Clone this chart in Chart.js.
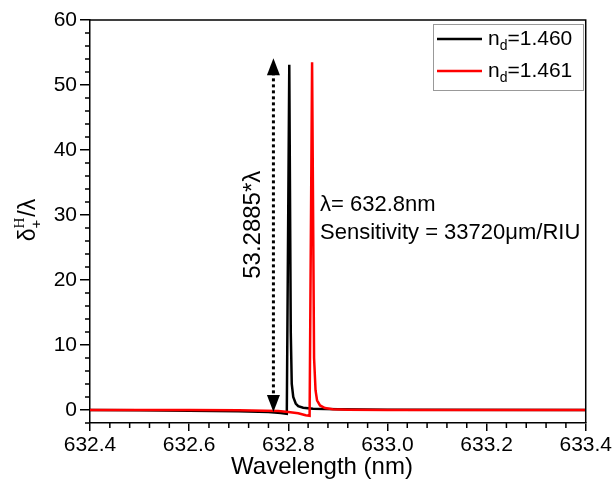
<!DOCTYPE html>
<html>
<head>
<meta charset="utf-8">
<script src="https://cdn.jsdelivr.net/npm/chart.js@4.4.0/dist/chart.umd.min.js"></script>
<style>
  body { margin: 0; background: #fff; }
  #wrap { width: 614px; height: 481px; }
</style>
</head>
<body>
<div id="wrap"><canvas id="myChart" width="614" height="481"></canvas></div>
<script>
// wavelength (nm) and delta/lambda
const blackX = [632.40, 632.50, 632.60, 632.70, 632.76, 632.785, 632.797, 632.802, 632.805, 632.807, 632.810, 632.815, 632.820, 632.830, 632.850, 632.900, 633.000, 633.400];
const blackY = [0, -0.05, -0.1, -0.2, -0.3, -0.45, -0.6, 53.1, 12, 4, 2, 1, 0.6, 0.35, 0.2, 0.1, 0.05, 0];
const redX = [632.40, 632.60, 632.70, 632.78, 632.80, 632.82, 632.835, 632.843, 632.848, 632.852, 632.855, 632.858, 632.864, 632.874, 632.890, 632.920, 633.000, 633.400];
const redY = [0, 0, -0.05, -0.15, -0.3, -0.5, -0.8, -0.9, 53.5, 8, 3, 1.5, 0.7, 0.3, 0.1, 0.05, 0, 0];

const seriesLabels = ["1.460", "1.461"];
const seriesColors = ["#000000", "#ff0000"];

const xTicks = [632.4, 632.6, 632.8, 633.0, 633.2, 633.4];
const yTicks = [0, 10, 20, 30, 40, 50, 60];

// annotation anchors in data units
const arrowX = 632.77;
const arrowTop = 54.1;
const arrowBottom = -0.3;
const heightLabel = "53.2885*\u03bb";
const heightLabelPos = [632.73, 28.5];
const noteLines = ["\u03bb= 632.8nm", "Sensitivity = 33720\u03bcm/RIU"];
const notePos = [632.864, 31.5, 27.2];

const FONT = "'Liberation Sans', Arial, sans-serif";
const SERIF = "'Liberation Serif', 'Times New Roman', serif";

function toPoints(xs, ys) {
  return xs.map((x, i) => ({ x: x, y: ys[i] }));
}

// minor ticks, frame, legend, axis titles and annotations
const extras = {
  id: "extras",
  afterDraw(chart) {
    const ctx = chart.ctx;
    const area = chart.chartArea;
    const xs = chart.scales.x;
    const ys = chart.scales.y;
    ctx.save();
    ctx.strokeStyle = "#000";
    ctx.lineWidth = 1.5;

    // frame top / right
    ctx.beginPath();
    ctx.moveTo(area.left, area.top);
    ctx.lineTo(area.right, area.top);
    ctx.lineTo(area.right, area.bottom);
    ctx.stroke();

    // minor ticks
    ctx.beginPath();
    for (let v = -2; v <= 60; v += 2) {
      if (v % 10 === 0) continue;
      const py = ys.getPixelForValue(v);
      ctx.moveTo(area.left - 5, py);
      ctx.lineTo(area.left, py);
    }
    for (let i = 0; i <= 25; i++) {
      if (i % 5 === 0) continue;
      const px = xs.getPixelForValue(632.4 + i * 0.04);
      ctx.moveTo(px, area.bottom);
      ctx.lineTo(px, area.bottom + 5);
    }
    ctx.stroke();

    // legend
    const lx = 433, ly = 24, lw = 150, lh = 66;
    ctx.fillStyle = "#fff";
    ctx.fillRect(lx, ly, lw, lh);
    ctx.strokeStyle = "#999";
    ctx.lineWidth = 1;
    ctx.strokeRect(lx + 0.5, ly + 0.5, lw, lh);
    seriesLabels.forEach((lab, i) => {
      const cy = 39 + i * 32;
      ctx.strokeStyle = seriesColors[i];
      ctx.lineWidth = 2.5;
      ctx.beginPath();
      ctx.moveTo(437, cy);
      ctx.lineTo(482, cy);
      ctx.stroke();
      ctx.fillStyle = "#000";
      ctx.textBaseline = "middle";
      ctx.textAlign = "left";
      ctx.font = "21px " + FONT;
      ctx.fillText("n", 488, cy);
      const nw = ctx.measureText("n").width;
      ctx.font = "14px " + FONT;
      ctx.fillText("d", 488 + nw, cy + 7);
      const dw = ctx.measureText("d").width;
      ctx.font = "21px " + FONT;
      ctx.fillText("=" + lab, 488 + nw + dw, cy);
    });

    // x axis title
    ctx.fillStyle = "#000";
    ctx.font = "24px " + FONT;
    ctx.textAlign = "center";
    ctx.textBaseline = "middle";
    ctx.fillText("Wavelength (nm)", 322, 467);

    // y axis title, rotated
    ctx.save();
    ctx.translate(27, 220);
    ctx.rotate(-Math.PI / 2);
    ctx.textBaseline = "alphabetic";
    ctx.textAlign = "left";
    ctx.font = "23px " + FONT;
    const w1 = ctx.measureText("\u03b4").width;
    const w2 = ctx.measureText("/\u03bb").width;
    ctx.font = "15px " + SERIF;
    const wh = ctx.measureText("H").width;
    let cx = -(w1 + wh + 1 + w2) / 2;
    ctx.font = "23px " + FONT;
    ctx.fillText("\u03b4", cx, 8);
    cx += w1;
    ctx.font = "15px " + SERIF;
    ctx.fillText("H", cx, -3);
    ctx.font = "15px " + FONT;
    ctx.fillText("+", cx, 14);
    cx += wh + 1;
    ctx.font = "23px " + FONT;
    ctx.fillText("/\u03bb", cx, 8);
    ctx.restore();

    // double arrow
    const ax = xs.getPixelForValue(arrowX);
    const aTop = ys.getPixelForValue(arrowTop);
    const aBot = ys.getPixelForValue(arrowBottom);
    ctx.strokeStyle = "#000";
    ctx.lineWidth = 3;
    ctx.setLineDash([3, 3]);
    ctx.beginPath();
    ctx.moveTo(ax, aTop + 14);
    ctx.lineTo(ax, aBot - 14);
    ctx.stroke();
    ctx.setLineDash([]);
    ctx.beginPath();
    ctx.moveTo(ax, aTop);
    ctx.lineTo(ax - 6.5, aTop + 17);
    ctx.lineTo(ax + 6.5, aTop + 17);
    ctx.closePath();
    ctx.fill();
    ctx.beginPath();
    ctx.moveTo(ax, aBot);
    ctx.lineTo(ax - 6.5, aBot - 17);
    ctx.lineTo(ax + 6.5, aBot - 17);
    ctx.closePath();
    ctx.fill();

    // rotated height label
    ctx.save();
    ctx.translate(xs.getPixelForValue(heightLabelPos[0]), ys.getPixelForValue(heightLabelPos[1]));
    ctx.rotate(-Math.PI / 2);
    ctx.font = "24px " + FONT;
    ctx.textAlign = "center";
    ctx.textBaseline = "middle";
    ctx.fillText(heightLabel, 0, 0);
    ctx.restore();

    // notes
    ctx.font = "22px " + FONT;
    ctx.textAlign = "left";
    ctx.textBaseline = "middle";
    const nx = xs.getPixelForValue(notePos[0]);
    ctx.fillText(noteLines[0], nx, ys.getPixelForValue(notePos[1]));
    ctx.fillText(noteLines[1], nx, ys.getPixelForValue(notePos[2]));

    ctx.restore();
  }
};

const chart = new Chart(document.getElementById("myChart"), {
  type: "line",
  data: {
    datasets: [
      {
        label: "n_d=" + seriesLabels[0],
        data: toPoints(blackX, blackY),
        borderColor: seriesColors[0],
        borderWidth: 2.5,
        pointRadius: 0,
        tension: 0,
        order: 1,
      },
      {
        label: "n_d=" + seriesLabels[1],
        data: toPoints(redX, redY),
        borderColor: seriesColors[1],
        borderWidth: 2.5,
        pointRadius: 0,
        tension: 0,
        order: 0,
      },
    ],
  },
  options: {
    responsive: false,
    animation: false,
    layout: { padding: { left: 0, top: 20, right: 26, bottom: 0 } },
    plugins: {
      legend: { display: false },
      tooltip: { enabled: false },
    },
    scales: {
      x: {
        type: "linear",
        min: 632.4,
        max: 633.4,
        afterBuildTicks: (scale) => {
          scale.ticks = xTicks.map((v) => ({ value: v }));
        },
        afterFit: (scale) => {
          scale.height = 58;
        },
        ticks: {
          color: "#000",
          font: { family: FONT, size: 21 },
          padding: 2,
          maxRotation: 0,
          callback: (v) => Number(v).toFixed(1),
        },
        grid: { drawOnChartArea: false, tickLength: 8, color: "#000", lineWidth: 1.5 },
        border: { color: "#000", width: 1.5 },
      },
      y: {
        type: "linear",
        min: -2,
        max: 60,
        afterBuildTicks: (scale) => {
          scale.ticks = yTicks.map((v) => ({ value: v }));
        },
        afterFit: (scale) => {
          scale.width = 90;
        },
        ticks: {
          color: "#000",
          font: { family: FONT, size: 21 },
          padding: 3,
        },
        grid: { drawOnChartArea: false, tickLength: 10, color: "#000", lineWidth: 1.5 },
        border: { color: "#000", width: 1.5 },
      },
    },
  },
  plugins: [extras],
});
</script>
</body>
</html>
